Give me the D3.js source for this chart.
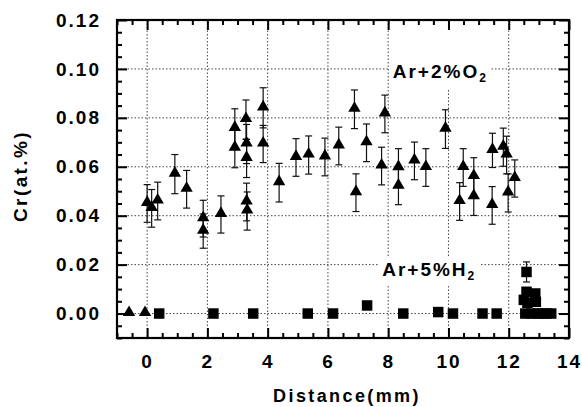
<!DOCTYPE html>
<html>
<head>
<script src="https://d3js.org/d3.v7.min.js"></script>
<style>
    body { margin: 0; background: #fff; }
    text { font-family: "Liberation Sans", Arial, Helvetica, sans-serif; font-weight: bold; }
</style>
</head>
<body>
<svg width=582 height=407></svg>
<script>
    // Ar+2%O2 series (triangles)
    var o2X = [-0.6, -0.07, 0.0, 0.15, 0.35, 0.92, 1.31, 1.86, 1.86, 2.45, 2.91, 2.91,
        3.28, 3.3, 3.3, 3.3, 3.32, 3.85, 3.85, 4.38, 4.94, 5.36, 5.9, 6.36, 6.88, 6.93,
        7.28, 7.78, 7.89, 8.34, 8.34, 8.87, 9.25, 9.9, 10.37, 10.49, 10.84, 10.84,
        11.46, 11.45, 11.82, 11.93, 11.98, 12.2];
    var o2Y = [0, 0, 0.045, 0.043, 0.046, 0.057, 0.0508, 0.0388, 0.0337, 0.0405, 0.0757, 0.0676,
        0.0793, 0.0693, 0.0634, 0.0456, 0.0419, 0.0841, 0.0693, 0.0535, 0.0638, 0.0648, 0.064, 0.0685, 0.0835, 0.0494,
        0.0698, 0.0603, 0.0816, 0.0596, 0.0521, 0.0624, 0.0597, 0.0754, 0.0458, 0.0597, 0.056, 0.0478,
        0.0667, 0.0442, 0.068, 0.0648, 0.0493, 0.0552];
    var o2Err = [0, 0, 0.0077, 0.0077, 0.0077, 0.008, 0.0077, 0.0075, 0.007, 0.0076, 0.008, 0.008,
        0.008, 0.008, 0.0078, 0.0077, 0.0078, 0.0082, 0.0076, 0.0079, 0.0077, 0.0078, 0.0077, 0.0077, 0.0079, 0.0077,
        0.0077, 0.0077, 0.0077, 0.0078, 0.0076, 0.0077, 0.0077, 0.0079, 0.0077, 0.0077, 0.0077, 0.0077,
        0.007, 0.0077, 0.0078, 0.0077, 0.0078, 0.0076];

    // Ar+5%H2 series (squares)
    var h2X = [0.4, 2.2, 3.52, 5.33, 6.17, 7.3, 8.5, 9.66, 10.15, 11.13, 11.6,
        12.59, 12.59, 12.88, 12.5, 12.9, 12.62,
        12.55, 12.75, 12.95, 13.1, 13.25, 13.41];
    var h2Y = [0, 0, 0, 0, 0, 0.0033, 0, 0.0006, 0, 0, 0,
        0.017, 0.0089, 0.0082, 0.0056, 0.0048, 0.0044,
        0, 0, 0, 0, 0, 0];
    var h2Err = [0, 0, 0, 0, 0, 0, 0, 0, 0, 0, 0,
        0.0041, 0, 0, 0, 0, 0,
        0, 0, 0, 0, 0, 0];

    var xMajor = [0, 2, 4, 6, 8, 10, 12, 14];
    var yMajor = [0, 0.02, 0.04, 0.06, 0.08, 0.10, 0.12];
    var xGrid = [0, 2, 4, 6, 8, 10, 12];
    var yGrid = [0, 0.02, 0.04, 0.06, 0.08, 0.10];

    var xs = d3.scaleLinear().domain([-1, 14]).range([117, 569]);
    var ys = d3.scaleLinear().domain([-0.01, 0.12]).range([338, 20]);

    var svg = d3.select('svg');

    // gridlines
    var grid = svg.append('g')
        .attr('stroke', '#444')
        .attr('stroke-width', 1)
        .attr('stroke-dasharray', '1.5,2');
    grid.selectAll('.gx').data(xGrid).enter().append('line')
        .attr('x1', function (d) { return xs(d); })
        .attr('x2', function (d) { return xs(d); })
        .attr('y1', ys(0.12)).attr('y2', ys(-0.01));
    grid.selectAll('.gy').data(yGrid).enter().append('line')
        .attr('y1', function (d) { return ys(d); })
        .attr('y2', function (d) { return ys(d); })
        .attr('x1', xs(-1)).attr('x2', xs(14));

    // label boxes hide the grid behind the text
    function seriesLabel(x, y, sub, main, boxTop) {
        var t = svg.append('text')
            .attr('x', xs(x)).attr('y', ys(y))
            .style('font-size', '19px')
            .style('letter-spacing', '2px');
        t.append('tspan').text(main);
        t.append('tspan').attr('dy', 4).style('font-size', '12px').text(sub);
        var b = t.node().getBBox();
        var top = boxTop == null ? b.y - 3 : ys(boxTop);
        svg.insert('rect', 'text')
            .attr('x', b.x - 3).attr('y', top)
            .attr('width', b.width + 6).attr('height', b.y + b.height + 3 - top)
            .attr('fill', '#fff');
    }
    seriesLabel(8.15, 0.0962, '2', 'Ar+2%O', 0.12);
    seriesLabel(7.8, 0.0153, '2', 'Ar+5%H');

    // error bars
    function errorBars(X, Y, E) {
        var idx = d3.range(X.length).filter(function (i) { return E[i] > 0; });
        var g = svg.append('g').attr('stroke', '#111').attr('stroke-width', 1.2);
        g.selectAll('.v').data(idx).enter().append('line')
            .attr('x1', function (i) { return xs(X[i]); })
            .attr('x2', function (i) { return xs(X[i]); })
            .attr('y1', function (i) { return ys(Y[i] + E[i]); })
            .attr('y2', function (i) { return ys(Y[i] - E[i]); });
        [1, -1].forEach(function (s) {
            g.selectAll('.c' + s).data(idx).enter().append('line')
                .attr('x1', function (i) { return xs(X[i]) - 3.5; })
                .attr('x2', function (i) { return xs(X[i]) + 3.5; })
                .attr('y1', function (i) { return ys(Y[i] + s * E[i]); })
                .attr('y2', function (i) { return ys(Y[i] + s * E[i]); });
        });
    }
    errorBars(o2X, o2Y, o2Err);
    errorBars(h2X, h2Y, h2Err);

    var tri = d3.symbol().type(d3.symbolTriangle).size(66);
    svg.append('g').selectAll('path').data(d3.range(o2X.length)).enter().append('path')
        .attr('d', tri)
        .attr('transform', function (i) { return 'translate(' + xs(o2X[i]) + ',' + (ys(o2Y[i]) - 1) + ')'; })
        .attr('fill', '#000');

    var sq = d3.symbol().type(d3.symbolSquare).size(110);
    svg.append('g').selectAll('path').data(d3.range(h2X.length)).enter().append('path')
        .attr('d', sq)
        .attr('transform', function (i) { return 'translate(' + xs(h2X[i]) + ',' + ys(h2Y[i]) + ')'; })
        .attr('fill', '#000');

    // axes: inward ticks, major + minor
    function styleAxis(g) {
        g.select('.domain').remove();
        g.selectAll('line').attr('stroke', '#000').attr('stroke-width', 2);
        g.selectAll('text').attr('fill', '#000')
            .style('font-size', '19px').style('letter-spacing', '2px')
            .style('font-family', '"Liberation Sans", Arial, sans-serif').style('font-weight', 'bold');
    }
    var xMinor = d3.range(-1, 14.01, 0.5).filter(function (d) { return xMajor.indexOf(d) < 0; });
    var yMinor = d3.range(-0.01, 0.1201, 0.005).map(function (d) { return Math.round(d * 1000) / 1000; })
        .filter(function (d) { return yMajor.indexOf(d) < 0; });

    svg.append('g').attr('transform', 'translate(0,' + ys(-0.01) + ')')
        .call(d3.axisBottom(xs).tickValues(xMajor).tickFormat(d3.format('d'))
            .tickSizeInner(-10).tickSizeOuter(0).tickPadding(17)).call(styleAxis);
    svg.append('g').attr('transform', 'translate(0,' + ys(-0.01) + ')')
        .call(d3.axisBottom(xs).tickValues(xMinor).tickFormat('').tickSizeInner(-5).tickSizeOuter(0)).call(styleAxis);
    svg.append('g').attr('transform', 'translate(0,' + ys(0.12) + ')')
        .call(d3.axisTop(xs).tickValues(xMajor).tickFormat('').tickSizeInner(-10).tickSizeOuter(0)).call(styleAxis);
    svg.append('g').attr('transform', 'translate(0,' + ys(0.12) + ')')
        .call(d3.axisTop(xs).tickValues(xMinor).tickFormat('').tickSizeInner(-5).tickSizeOuter(0)).call(styleAxis);

    svg.append('g').attr('transform', 'translate(' + xs(-1) + ',0)')
        .call(d3.axisLeft(ys).tickValues(yMajor).tickFormat(d3.format('.2f'))
            .tickSizeInner(-10).tickSizeOuter(0).tickPadding(16)).call(styleAxis);
    svg.append('g').attr('transform', 'translate(' + xs(-1) + ',0)')
        .call(d3.axisLeft(ys).tickValues(yMinor).tickFormat('').tickSizeInner(-5).tickSizeOuter(0)).call(styleAxis);
    svg.append('g').attr('transform', 'translate(' + xs(14) + ',0)')
        .call(d3.axisRight(ys).tickValues(yMajor).tickFormat('').tickSizeInner(-10).tickSizeOuter(0)).call(styleAxis);
    svg.append('g').attr('transform', 'translate(' + xs(14) + ',0)')
        .call(d3.axisRight(ys).tickValues(yMinor).tickFormat('').tickSizeInner(-5).tickSizeOuter(0)).call(styleAxis);

    // frame
    svg.append('rect')
        .attr('x', xs(-1)).attr('y', ys(0.12))
        .attr('width', xs(14) - xs(-1)).attr('height', ys(-0.01) - ys(0.12))
        .attr('fill', 'none').attr('stroke', '#000').attr('stroke-width', 2.2);

    // axis titles
    svg.append('text')
        .attr('x', (xs(-1) + xs(14)) / 2 + 4).attr('y', 402)
        .attr('text-anchor', 'middle')
        .style('font-size', '18px').style('letter-spacing', '2.4px')
        .text('Distance(mm)');
    svg.append('text')
        .attr('transform', 'translate(27,' + 176 + ') rotate(-90)')
        .attr('text-anchor', 'middle')
        .style('font-size', '19px').style('letter-spacing', '2.4px')
        .text('Cr(at.%)');
</script>
</body>
</html>
